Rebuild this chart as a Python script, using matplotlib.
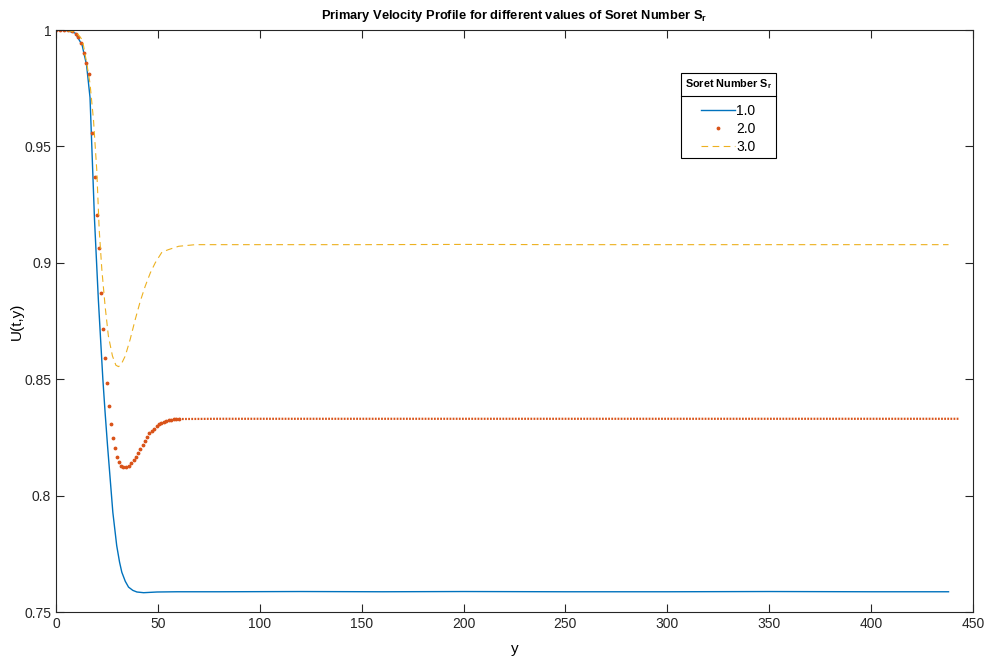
import numpy as np
import matplotlib
matplotlib.use('Agg')
import matplotlib.pyplot as plt
from matplotlib.lines import Line2D

plt.rcParams['font.family'] = ['Liberation Sans', 'DejaVu Sans']
plt.rcParams['mathtext.default'] = 'regular'

# values
blue_x = [0, 5, 9.4, 12.8, 15, 16.7, 18.9, 20.8, 23, 24.1, 25.3, 26.6, 27.9, 29.8, 31.2,
          32.3, 34, 35.6, 37.7, 39.7, 43, 49.6, 59.4, 80, 120, 160, 200, 250, 300, 350,
          400, 438]
blue_y = [1.0, 0.9998, 0.9987, 0.9936, 0.985, 0.971, 0.9186, 0.884, 0.850, 0.8357, 0.8214,
          0.8071, 0.7928, 0.7785, 0.7714, 0.7671, 0.7632, 0.7607, 0.7593, 0.7586, 0.7583,
          0.7586, 0.7587, 0.7587, 0.7588, 0.7587, 0.7588, 0.7587, 0.7587, 0.7588, 0.7587,
          0.7587]

red_x = [0, 2, 4, 6, 8, 10, 11, 12.5, 13.9, 14.8, 16.1, 17.9, 18.9, 20.3, 21.2, 22.0,
         23.0, 24.1, 24.9, 26.1, 26.9, 27.9, 28.9, 30.0, 31.0, 32.0, 33.1, 34.4, 35.6,
         36.9, 38.1, 39.2, 40.2, 41.4, 42.5, 43.5, 44.6, 45.8, 47.1, 48.3, 49.4, 50.6,
         51.7, 53.0, 54.2, 55.3, 56.5, 57.8, 59.0, 60.3, 80, 120, 160, 200, 250, 300,
         350, 400, 443]
red_y = [1.0, 1.0, 0.9999, 0.9998, 0.9995, 0.9985, 0.9971, 0.9945, 0.990, 0.9857, 0.981,
         0.9557, 0.937, 0.9207, 0.9064, 0.8871, 0.8717, 0.8589, 0.8483, 0.8386, 0.8307,
         0.8248, 0.8205, 0.8167, 0.8143, 0.8128, 0.8121, 0.8121, 0.8128, 0.8140, 0.8153,
         0.8168, 0.8183, 0.8200, 0.8218, 0.8235, 0.8250, 0.8267, 0.8278, 0.8288, 0.8300,
         0.8307, 0.8314, 0.8318, 0.8321, 0.8324, 0.8325, 0.8328, 0.8329, 0.8329, 0.8330,
         0.8330, 0.8330, 0.8330, 0.8330, 0.8330, 0.8330, 0.8330, 0.8330]

yellow_x = [0, 5, 10, 13, 15.1, 16.7, 18.4, 20, 21.2, 22.5, 24.1, 25.7, 27.7, 29.4, 30.7,
            32, 34, 36.4, 38.9, 41.4, 43.8, 46.3, 48.7, 52, 55.3, 60.2, 68.4, 100, 150,
            200, 250, 300, 350, 400, 438]
yellow_y = [1.0, 0.9998, 0.999, 0.9957, 0.9857, 0.977, 0.9614, 0.94, 0.9143, 0.8971,
            0.8814, 0.8686, 0.86, 0.856, 0.8554, 0.8564, 0.86, 0.8671, 0.8757, 0.8836,
            0.89, 0.8957, 0.90, 0.9046, 0.9057, 0.9071, 0.9078, 0.9078, 0.9078, 0.9079,
            0.9078, 0.9078, 0.9078, 0.9078, 0.9078]

sr_labels = ['1.0', '2.0', '3.0']

c_blue = '#0072BD'
c_red = '#D95319'
c_yel = '#EDB120'

fig = plt.figure(figsize=(9.84, 6.61), dpi=100)
ax = fig.add_axes([0.0569, 0.0741, 0.9319, 0.8805])

ax.plot(blue_x, blue_y, color=c_blue, lw=1.0)

# red: single dots where they are sparse, dense dotted line on the flat tail
rx = np.array(red_x)
ry = np.array(red_y)
sparse = rx <= 60.3
ax.plot(rx[sparse], ry[sparse], '.', color=c_red, ms=3.5)
ax.plot(rx[rx >= 60.3], ry[rx >= 60.3], color=c_red, lw=1.6, dashes=(0.8, 0.6))

ax.plot(yellow_x, yellow_y, color=c_yel, lw=0.8, dashes=(6, 4))

ax.set_xlim(0, 450)
ax.set_ylim(0.75, 1.0)
ax.set_xticks(np.arange(0, 451, 50))
ax.set_yticks([0.75, 0.8, 0.85, 0.9, 0.95, 1.0])
ax.set_yticklabels(['0.75', '0.8', '0.85', '0.9', '0.95', '1'])
ax.tick_params(direction='in', top=True, right=True, length=6, width=0.8,
               labelsize=10, colors='#262626')
for s in ax.spines.values():
    s.set_linewidth(0.8)
    s.set_color('#262626')

ax.set_xlabel('y', fontsize=11, labelpad=8)
ax.set_ylabel('U(t,y)', fontsize=11, labelpad=0)
ax.set_title('Primary Velocity Profile for different values of Soret Number S$_r$',
             fontsize=9.3, fontweight='bold', pad=8)

handles = [Line2D([], [], color=c_blue, lw=1.0),
           Line2D([], [], color=c_red, marker='.', ms=3.5, ls='none'),
           Line2D([], [], color=c_yel, lw=0.8, dashes=(6, 4))]
leg = ax.legend(handles, sr_labels, title='Soret Number S$_r$', loc='upper left',
                bbox_to_anchor=(0.6735, 0.938), fancybox=False, edgecolor='black',
                fontsize=10, handlelength=2.4, handletextpad=0.1, borderpad=0.3,
                labelspacing=0.3, framealpha=1, title_fontsize=7.8)
leg.get_frame().set_linewidth(0.8)
leg.get_title().set_fontweight('bold')
leg._legend_box.sep = 9

fig.canvas.draw()
lb = leg.get_window_extent()
tb = leg.get_title().get_window_extent()
ysep = tb.y0 - 5
inv = fig.transFigure.inverted()
p0 = inv.transform((lb.x0, ysep))
p1 = inv.transform((lb.x1, ysep))
fig.add_artist(Line2D([p0[0], p1[0]], [p0[1], p1[1]], color='black', lw=0.8))

fig.savefig('out.png', dpi=100)
